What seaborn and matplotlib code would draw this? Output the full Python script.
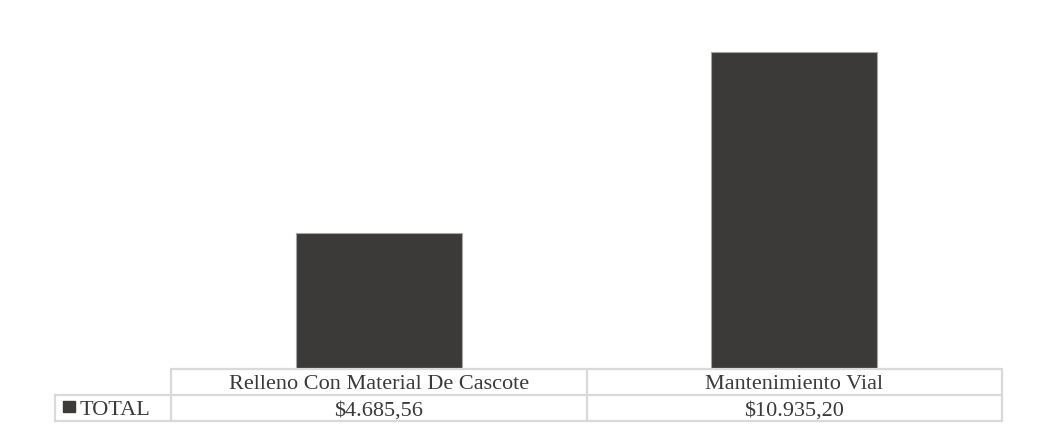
import matplotlib
matplotlib.use("Agg")
import matplotlib.pyplot as plt
import seaborn as sns
import pandas as pd

# Data
categories = ["Relleno Con Material De Cascote", "Mantenimiento Vial"]
totals = [4685.56, 10935.20]
total_labels = ["$4.685,56", "$10.935,20"]
series_name = "TOTAL"

df = pd.DataFrame({"Categoria": categories, "Total": totals})

sns.set_theme(style="white")
plt.rcParams["font.family"] = ["Liberation Serif", "DejaVu Serif"]

W, H = 1041, 439
fig = plt.figure(figsize=(W / 100, H / 100), dpi=100)

# plot area in pixels
x0, x1 = 171, 1002
y_base, y_top = 370, 22
ax = fig.add_axes([x0 / W, (H - y_base) / H, (x1 - x0) / W, (y_base - y_top) / H])

bar_color = "#3b3a38"
sns.barplot(data=df, x="Categoria", y="Total", color=bar_color, width=0.4,
            edgecolor="#a6a6a6", linewidth=0.8, saturation=1, ax=ax)
ax.set_ylim(0, 12000)
ax.set_xlim(-0.5, 1.5)
ax.set_xticks([])
ax.set_yticks([])
ax.set_xlabel("")
ax.set_ylabel("")
for s in ax.spines.values():
    s.set_visible(False)

# data table under the bars
line_c = "#d9d9d9"
text_c = "#3a3a3a"
fs = 16


def px(x):
    return x / W


def py(y):
    return (H - y) / H


row_top, row_mid, row_bot = 370, 396, 422
leg_left = 55
col_edges = [x0 + (x1 - x0) * i / len(categories) for i in range(len(categories) + 1)]

lw = 1.6
# horizontal lines
fig.add_artist(plt.Line2D([px(x0), px(x1)], [py(row_top)] * 2, color=line_c, lw=lw))
fig.add_artist(plt.Line2D([px(leg_left), px(x1)], [py(row_mid)] * 2, color=line_c, lw=lw))
fig.add_artist(plt.Line2D([px(leg_left), px(x1)], [py(row_bot)] * 2, color=line_c, lw=lw))
# vertical lines
for xe in col_edges:
    fig.add_artist(plt.Line2D([px(xe)] * 2, [py(row_top), py(row_bot)], color=line_c, lw=lw))
fig.add_artist(plt.Line2D([px(leg_left)] * 2, [py(row_mid), py(row_bot)], color=line_c, lw=lw))

for i, (cat, lab) in enumerate(zip(categories, total_labels)):
    cx = (col_edges[i] + col_edges[i + 1]) / 2
    fig.text(px(cx), py((row_top + row_mid) / 2 + 2), cat, ha="center", va="center",
             fontsize=fs, color=text_c)
    fig.text(px(cx), py((row_mid + row_bot) / 2 + 2), lab, ha="center", va="center",
             fontsize=fs, color=text_c)

# legend key + series name
fig.add_artist(plt.Rectangle((px(63), py(413)), px(12), 11 / H, color=bar_color))
fig.text(px(80), py((row_mid + row_bot) / 2 + 2), series_name, ha="left", va="center",
         fontsize=fs, color=text_c)

fig.savefig("out.png", dpi=100, facecolor="white")
